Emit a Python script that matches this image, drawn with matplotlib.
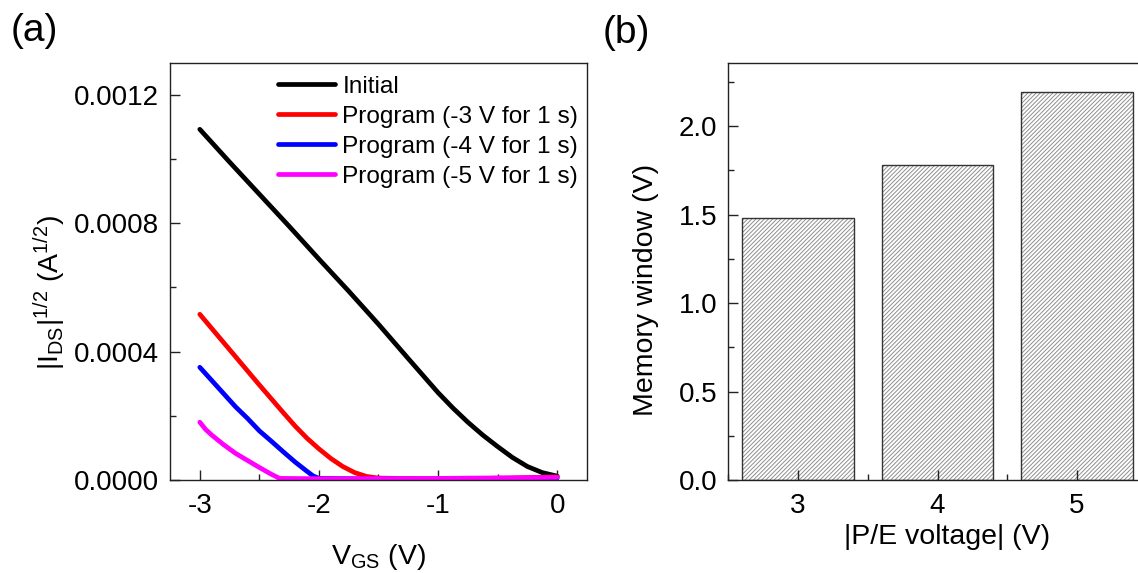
import numpy as np
import matplotlib
matplotlib.use("Agg")
import matplotlib.pyplot as plt
from matplotlib.ticker import MultipleLocator, FormatStrFormatter

plt.rcParams["font.family"] = ["Liberation Sans", "DejaVu Sans"]
plt.rcParams["mathtext.fontset"] = "custom"
plt.rcParams["mathtext.rm"] = "Liberation Sans"
plt.rcParams["mathtext.it"] = "Liberation Sans:italic"
plt.rcParams["axes.unicode_minus"] = False
plt.rcParams["hatch.linewidth"] = 0.7

# (a) transfer curves, |I_DS|^1/2 vs V_GS
vgs_initial = [-3.0, -2.75, -2.5, -2.25, -2.0, -1.75, -1.5, -1.25, -1.0, -0.875,
               -0.75, -0.625, -0.5, -0.375, -0.25, -0.125, 0.0]
ids_initial = [0.001092, 0.000990, 0.000890, 0.000790, 0.000688, 0.000588, 0.000485,
               0.000378, 0.000272, 0.000224, 0.000180, 0.000140, 0.000104, 0.000070,
               0.000042, 0.000023, 0.000012]

vgs_p3 = [-3.0, -2.9, -2.8, -2.7, -2.6, -2.5, -2.4, -2.3, -2.2, -2.1, -2.0, -1.9,
          -1.8, -1.7, -1.6, -1.5, -1.2, -0.8, -0.4, -0.2, 0.0]
ids_p3 = [0.000516, 0.000472, 0.000428, 0.000384, 0.000340, 0.000296, 0.000253,
          0.000210, 0.000168, 0.000130, 0.000097, 0.000067, 0.000042, 0.000023,
          0.000011, 0.000006, 0.000004, 0.000004, 0.000006, 0.000008, 0.000010]

vgs_p4 = [-3.0, -2.9, -2.8, -2.7, -2.6, -2.5, -2.4, -2.3, -2.2, -2.1, -2.05, -2.0,
          -1.5, -1.0, -0.5, 0.0]
ids_p4 = [0.000351, 0.000310, 0.000269, 0.000228, 0.000192, 0.000153, 0.000121,
          0.000088, 0.000056, 0.000027, 0.000013, 0.000005, 0.000003, 0.000003,
          0.000004, 0.000006]

vgs_p5 = [-3.0, -2.95, -2.9, -2.8, -2.7, -2.6, -2.5, -2.4, -2.33, -2.0, -1.0, 0.0]
ids_p5 = [0.000180, 0.000157, 0.000140, 0.000110, 0.000083, 0.000061, 0.000039,
          0.000018, 0.000005, 0.000004, 0.000005, 0.000008]

curve_labels = ["Initial", "Program (-3 V for 1 s)", "Program (-4 V for 1 s)", "Program (-5 V for 1 s)"]
curve_colors = ["black", "#ff0000", "#0000ff", "#ff00ff"]

# (b) memory window vs |P/E voltage|
pe_voltage = [3, 4, 5]
memory_window = [1.483, 1.783, 2.192]

fig = plt.figure(figsize=(11.38, 5.73), dpi=100)
ax1 = fig.add_axes([0.1494, 0.1623, 0.3664, 0.7286])
ax2 = fig.add_axes([0.6400, 0.1623, 0.3677, 0.7286])

tick_fs = 20
label_fs = 20.5

for ax in (ax1, ax2):
    for s in ax.spines.values():
        s.set_linewidth(1.0)
        s.set_color("#222222")
    ax.tick_params(which="both", direction="in", top=False, right=False,
                   width=1.0, color="#222222", labelsize=tick_fs)
    ax.tick_params(which="major", length=7)
    ax.tick_params(which="minor", length=4)
    ax.tick_params(axis="y", pad=8)
    ax.tick_params(axis="x", pad=9)

series = [(vgs_initial, ids_initial), (vgs_p3, ids_p3), (vgs_p4, ids_p4), (vgs_p5, ids_p5)]
for (x, y), lab, col in zip(series, curve_labels, curve_colors):
    ax1.plot(x, y, color=col, lw=3.4, label=lab, solid_capstyle="round",
             solid_joinstyle="round")

ax1.set_xlim(-3.25, 0.25)
ax1.set_ylim(0, 0.0013)
ax1.xaxis.set_major_locator(MultipleLocator(1))
ax1.xaxis.set_minor_locator(MultipleLocator(0.5))
ax1.yaxis.set_major_locator(MultipleLocator(0.0004))
ax1.yaxis.set_minor_locator(MultipleLocator(0.0002))
ax1.yaxis.set_major_formatter(FormatStrFormatter("%.4f"))
ax1.set_xlabel(r"V$_{\mathregular{GS}}$ (V)", fontsize=label_fs, labelpad=17)
ax1.set_ylabel(r"|I$_{\mathregular{DS}}$|$^{\mathregular{1/2}}$ (A$^{\mathregular{1/2}}$)",
               fontsize=label_fs)
ax1.yaxis.set_label_coords(-0.245, 0.45)

leg = ax1.legend(loc="upper left", bbox_to_anchor=(0.26, 0.968), frameon=False,
                 fontsize=17.6, handlelength=2.33, handletextpad=0.29,
                 labelspacing=0.32, borderpad=0, borderaxespad=0)

# bars: hatch layer in gray, outline in dark
ax2.bar(pe_voltage, memory_window, width=0.8, color="white", edgecolor="#8f8f8f",
        hatch="////////", linewidth=0)
ax2.bar(pe_voltage, memory_window, width=0.8, fill=False, edgecolor="#333333", linewidth=1.0)

ax2.set_xlim(2.5, 5.5)
ax2.set_ylim(0, 2.36)
ax2.set_xticks(pe_voltage)
ax2.xaxis.set_minor_locator(MultipleLocator(0.5))
ax2.yaxis.set_major_locator(MultipleLocator(0.5))
ax2.yaxis.set_minor_locator(MultipleLocator(0.25))
ax2.yaxis.set_major_formatter(FormatStrFormatter("%.1f"))
ax2.set_xlabel("|P/E voltage| (V)", fontsize=label_fs)
ax2.xaxis.set_label_coords(0.523, -0.105)
ax2.set_ylabel("Memory window (V)", fontsize=label_fs)
ax2.yaxis.set_label_coords(-0.166, 0.456)

fig.text(11 / 1138, 1 - 31 / 573, "(a)", fontsize=28, ha="left", va="center")
fig.text(603 / 1138, 1 - 33 / 573, "(b)", fontsize=28, ha="left", va="center")

fig.savefig("out.png", dpi=100)
